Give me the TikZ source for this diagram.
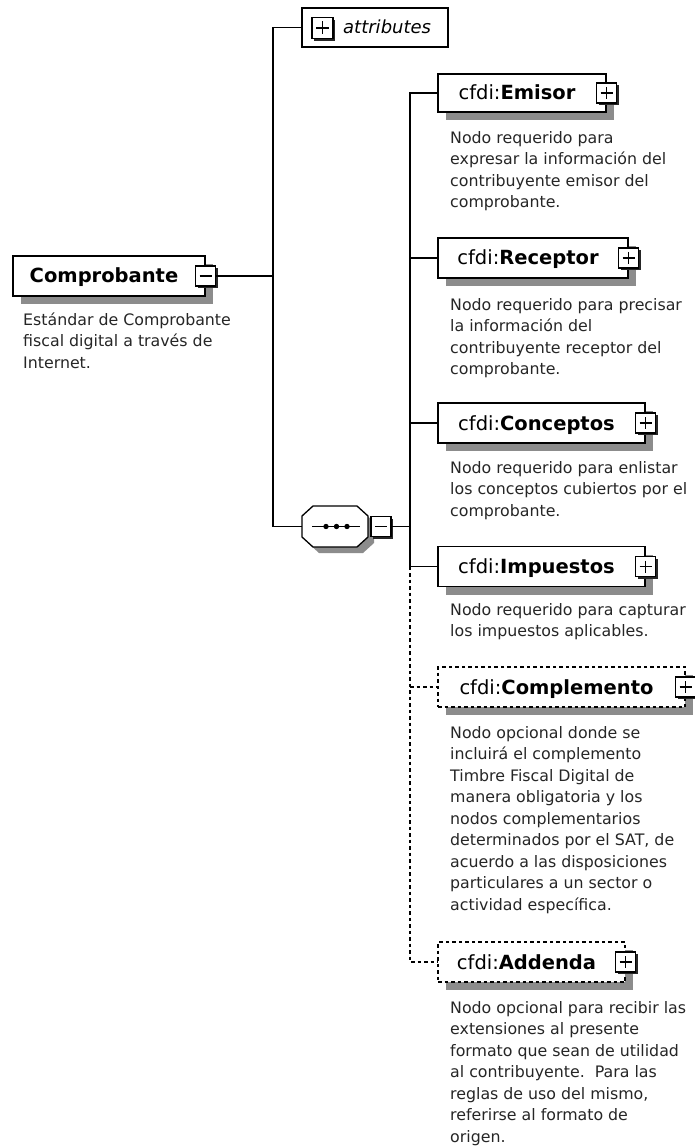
\documentclass[tikz,border=0pt]{standalone}
\usepackage{fontspec}
\setmainfont{DejaVu Sans}
\usetikzlibrary{shadows,calc}
\tikzset{
  conn/.style={line width=1.4pt, draw=black},
  optconn/.style={conn, line width=1.2pt, dash pattern=on 3.5pt off 3pt},
  boxshadow/.style={drop shadow={shadow xshift=8pt, shadow yshift=-8pt, fill=black!45, opacity=1}},
  elbox/.style={draw=black, line width=1.3pt, fill=white, inner sep=0pt, minimum height=40pt, boxshadow},
  optbox/.style={elbox, line width=1.2pt, dash pattern=on 3.5pt off 3pt},
  plainbox/.style={draw=black, line width=1.3pt, fill=white, inner sep=0pt},
  icon/.style={draw=black, line width=1.3pt, fill=white, minimum size=20pt, inner sep=0pt,
    drop shadow={shadow xshift=2.2pt, shadow yshift=-2.2pt, fill=black!85, opacity=1}},
  minusicon/.style={icon, path picture={\draw[line width=1.2pt]
    ([xshift=4pt]path picture bounding box.west) -- ([xshift=-4pt]path picture bounding box.east);}},
  plusicon/.style={icon, path picture={\draw[line width=1.2pt]
    ([xshift=4pt]path picture bounding box.west) -- ([xshift=-4pt]path picture bounding box.east)
    ([yshift=-4pt]path picture bounding box.north) -- ([yshift=4pt]path picture bounding box.south);}},
  ttl/.style={font=\fontsize{19.5}{23}\selectfont, inner sep=0pt, anchor=base},
  desc/.style={font=\fontsize{15.8}{21.5}\selectfont, text=black!85, align=left, inner sep=0pt, anchor=north west},
}
\begin{document}
\begin{tikzpicture}[x=1pt,y=-1pt]
\useasboundingbox (0,0) rectangle (695,1147);
\fill[white] (0,0) rectangle (695,1147);

% root element
\node[elbox, minimum width=192pt] (cmp) at (109,276) {};
\node[ttl] (cmp-t) at ([xshift=-5pt,yshift=-7pt]cmp.center) {\textbf{Comprobante}};
\node[minusicon] (cmp-i) at (cmp.east) {};
\node[desc] (cmp-d) at (23,310) {\strut Estándar de Comprobante\\fiscal digital a través de\\Internet.};

% attributes
\node[plainbox, minimum width=146pt, minimum height=39pt] (attr) at (375,27.5) {};
\node[plusicon, minimum size=21pt] (attr-i) at (322.5,28) {};
\node[inner sep=0pt, anchor=base west, font=\fontsize{18}{22}\selectfont\itshape] (attr-t) at (343,34) {attributes};

% sequence compositor (octagon)
\fill[black!45] (308,522) -- (319,512) -- (363,512) -- (374,522) -- (374,543) -- (363,553) -- (319,553) -- (308,543) -- cycle;
\filldraw[fill=white, draw=black, line width=1.3pt] (302,516) -- (313,506) -- (357,506) -- (368,516) -- (368,537) -- (357,547) -- (313,547) -- (302,537) -- cycle;
\node[minimum width=66pt, minimum height=41pt, inner sep=0pt] (seq) at (335,526.5) {};
\draw[line width=1.4pt] ([xshift=-23pt]seq.center) -- ([xshift=25pt]seq.center);
\foreach \dx in {-9,1.5,12}{\fill ([xshift=\dx pt]seq.center) circle (2.7pt);}
\node[minusicon, anchor=west] (seq-i) at ([xshift=2pt]seq.east) {};

% child elements
\node[elbox, minimum width=168pt, minimum height=38pt] (emisor) at (522,93) {};
\node[ttl] (emisor-t) at ([xshift=-5pt,yshift=-7pt]emisor.center) {cfdi:\textbf{Emisor}};
\node[plusicon] (emisor-i) at (emisor.east) {};
\node[desc] (emisor-d) at (450,128) {\strut Nodo requerido para\\expresar la información del\\contribuyente emisor del\\comprobante.};

\node[elbox, minimum width=190pt] (receptor) at (533,258) {};
\node[ttl] (receptor-t) at ([xshift=-5pt,yshift=-7pt]receptor.center) {cfdi:\textbf{Receptor}};
\node[plusicon] (receptor-i) at (receptor.east) {};
\node[desc] (receptor-d) at (450,295) {\strut Nodo requerido para precisar\\la información del\\contribuyente receptor del\\comprobante.};

\node[elbox, minimum width=207pt] (conceptos) at (541.5,423) {};
\node[ttl] (conceptos-t) at ([xshift=-5pt,yshift=-7pt]conceptos.center) {cfdi:\textbf{Conceptos}};
\node[plusicon] (conceptos-i) at (conceptos.east) {};
\node[desc] (conceptos-d) at (450,458) {\strut Nodo requerido para enlistar\\los conceptos cubiertos por el\\comprobante.};

\node[elbox, minimum width=207pt] (impuestos) at (541.5,566.5) {};
\node[ttl] (impuestos-t) at ([xshift=-5pt,yshift=-7pt]impuestos.center) {cfdi:\textbf{Impuestos}};
\node[plusicon] (impuestos-i) at (impuestos.east) {};
\node[desc] (impuestos-d) at (450,600) {\strut Nodo requerido para capturar\\los impuestos aplicables.};

\node[optbox, minimum width=247pt] (complemento) at (561.5,687) {};
\node[ttl] (complemento-t) at ([xshift=-5pt,yshift=-7pt]complemento.center) {cfdi:\textbf{Complemento}};
\node[plusicon] (complemento-i) at (complemento.east) {};
\node[desc] (complemento-d) at (450,723) {\strut Nodo opcional donde se\\incluirá el complemento\\Timbre Fiscal Digital de\\manera obligatoria y los\\nodos complementarios\\determinados por el SAT, de\\acuerdo a las disposiciones\\particulares a un sector o\\actividad específica.};

\node[optbox, minimum width=187pt] (addenda) at (531.5,962) {};
\node[ttl] (addenda-t) at ([xshift=-5pt,yshift=-7pt]addenda.center) {cfdi:\textbf{Addenda}};
\node[plusicon] (addenda-i) at (addenda.east) {};
\node[desc] (addenda-d) at (450,998) {\strut Nodo opcional para recibir las\\extensiones al presente\\formato que sean de utilidad\\al contribuyente.\ \ Para las\\reglas de uso del mismo,\\referirse al formato de\\origen.};

% connectors
\coordinate (j1) at (273,276);
\coordinate (j2) at (410,526.5);
\draw[conn] (cmp-i.east) -- (j1);
\draw[conn] (attr.west) -| (j1) |- (seq.west);
\draw[conn] (seq-i.east) -- (j2);
\draw[conn] (emisor.west) -| (j2) |- (impuestos.west);
\draw[conn] (j2 |- receptor.west) -- (receptor.west);
\draw[conn] (j2 |- conceptos.west) -- (conceptos.west);
\draw[optconn] (j2 |- impuestos.west) |- (addenda.west);
\draw[optconn] (j2 |- complemento.west) -- (complemento.west);
\end{tikzpicture}
\end{document}
